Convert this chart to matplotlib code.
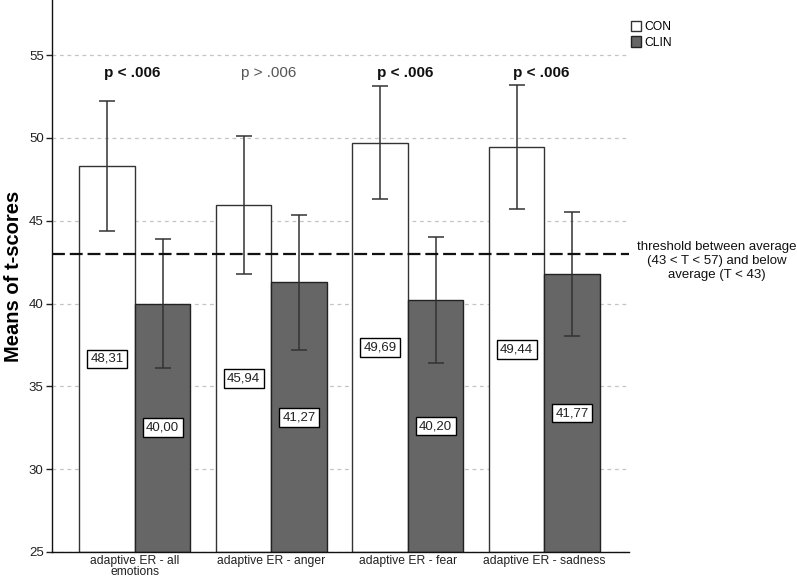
import numpy as np
import matplotlib
matplotlib.use('Agg')
import matplotlib.pyplot as plt
from matplotlib.patches import Patch

plt.rcParams['font.family'] = ['Liberation Sans', 'DejaVu Sans']

# data
categories = ['adaptive ER - all\nemotions', 'adaptive ER - anger',
              'adaptive ER - fear', 'adaptive ER - sadness']
con_mean = [48.31, 45.94, 49.69, 49.44]
con_hi = [52.2, 50.1, 53.1, 53.2]
con_lo = [44.4, 41.8, 46.3, 45.7]
clin_mean = [40.00, 41.27, 40.20, 41.77]
clin_hi = [43.9, 45.35, 44.0, 45.5]
clin_lo = [36.1, 37.2, 36.4, 38.05]
p_labels = ['p < .006', 'p > .006', 'p < .006', 'p < .006']
p_bold = [True, False, True, True]
threshold = 43
y_ticks = [25, 30, 35, 40, 45, 50, 55]

W, H = 797, 578
fig = plt.figure(figsize=(W / 100, H / 100), dpi=100)
ax = fig.add_axes([52 / W, 26 / H, (629 - 52) / W, 552 / H])

x = np.arange(len(categories))
width = 0.4066
con_x = x - width / 2
clin_x = x + width / 2

ax.bar(con_x, np.array(con_mean) - 25, width, bottom=25, color='white',
       edgecolor='#333333', linewidth=1.0, zorder=2)
ax.bar(clin_x, np.array(clin_mean) - 25, width, bottom=25, color='#666666',
       edgecolor='#222222', linewidth=1.0, zorder=2)

con_err = [np.array(con_mean) - np.array(con_lo), np.array(con_hi) - np.array(con_mean)]
clin_err = [np.array(clin_mean) - np.array(clin_lo), np.array(clin_hi) - np.array(clin_mean)]
for xs, ms, err in [(con_x, con_mean, con_err), (clin_x, clin_mean, clin_err)]:
    ax.errorbar(xs, ms, yerr=err, fmt='none', ecolor='#333333', elinewidth=1.1,
                capsize=5.5, capthick=1.1, zorder=3)

# value labels in the middle of each bar
for xs, ms in [(con_x, con_mean), (clin_x, clin_mean)]:
    for xi, m in zip(xs, ms):
        ax.text(xi, (m + 25) / 2, ('%.2f' % m).replace('.', ','), ha='center',
                va='center', fontsize=9.5, color='#222222', zorder=4,
                bbox=dict(boxstyle='square,pad=0.25', fc='white', ec='black', lw=1))

# p-values above groups
for xi, lab, b in zip(x, p_labels, p_bold):
    ax.text(xi - 0.02, 53.9, lab, ha='center', va='center', fontsize=11,
            fontweight='bold' if b else 'normal',
            color='#111111' if b else '#555555')

ax.axhline(threshold, color='#111111', lw=1.6, dashes=(5.8, 2.2), zorder=5)

ax.set_xlim(-0.608, 3.62)
ax.set_ylim(25, 58.32)
ax.set_yticks(y_ticks)
ax.yaxis.grid(True, color='#c4c4c4', linestyle=(0, (3, 3)), lw=0.9)
ax.set_axisbelow(True)

ax.set_xticks(x)
ax.set_xticklabels(categories, fontsize=8.7, linespacing=0.95, color='#222222')
ax.tick_params(axis='x', length=0, pad=2)
ax.tick_params(axis='y', length=4, width=1, labelsize=9.5, colors='#222222', pad=2)

for s in ['top', 'right']:
    ax.spines[s].set_visible(False)
for s in ['left', 'bottom']:
    ax.spines[s].set_color('#111111')
    ax.spines[s].set_linewidth(1.0)

ax.set_ylabel('Means of t-scores', fontsize=14.5, fontweight='bold', labelpad=4)

handles = [Patch(facecolor='white', edgecolor='#333333', lw=1),
           Patch(facecolor='#666666', edgecolor='#222222', lw=1)]
fig.legend(handles, ['CON', 'CLIN'], loc='upper left',
           bbox_to_anchor=(631 / W, 1 - 21 / H), frameon=False,
           handlelength=0.85, handleheight=0.95, handletextpad=0.25,
           labelspacing=0.25, fontsize=8.7, borderaxespad=0, borderpad=0)

fig.text(717 / W, 1 - 261 / H,
         'threshold between average\n(43 < T < 57) and below\naverage (T < 43)',
         ha='center', va='center', fontsize=9.5, linespacing=1.2, color='#111111')

fig.savefig('out.png', dpi=100)
